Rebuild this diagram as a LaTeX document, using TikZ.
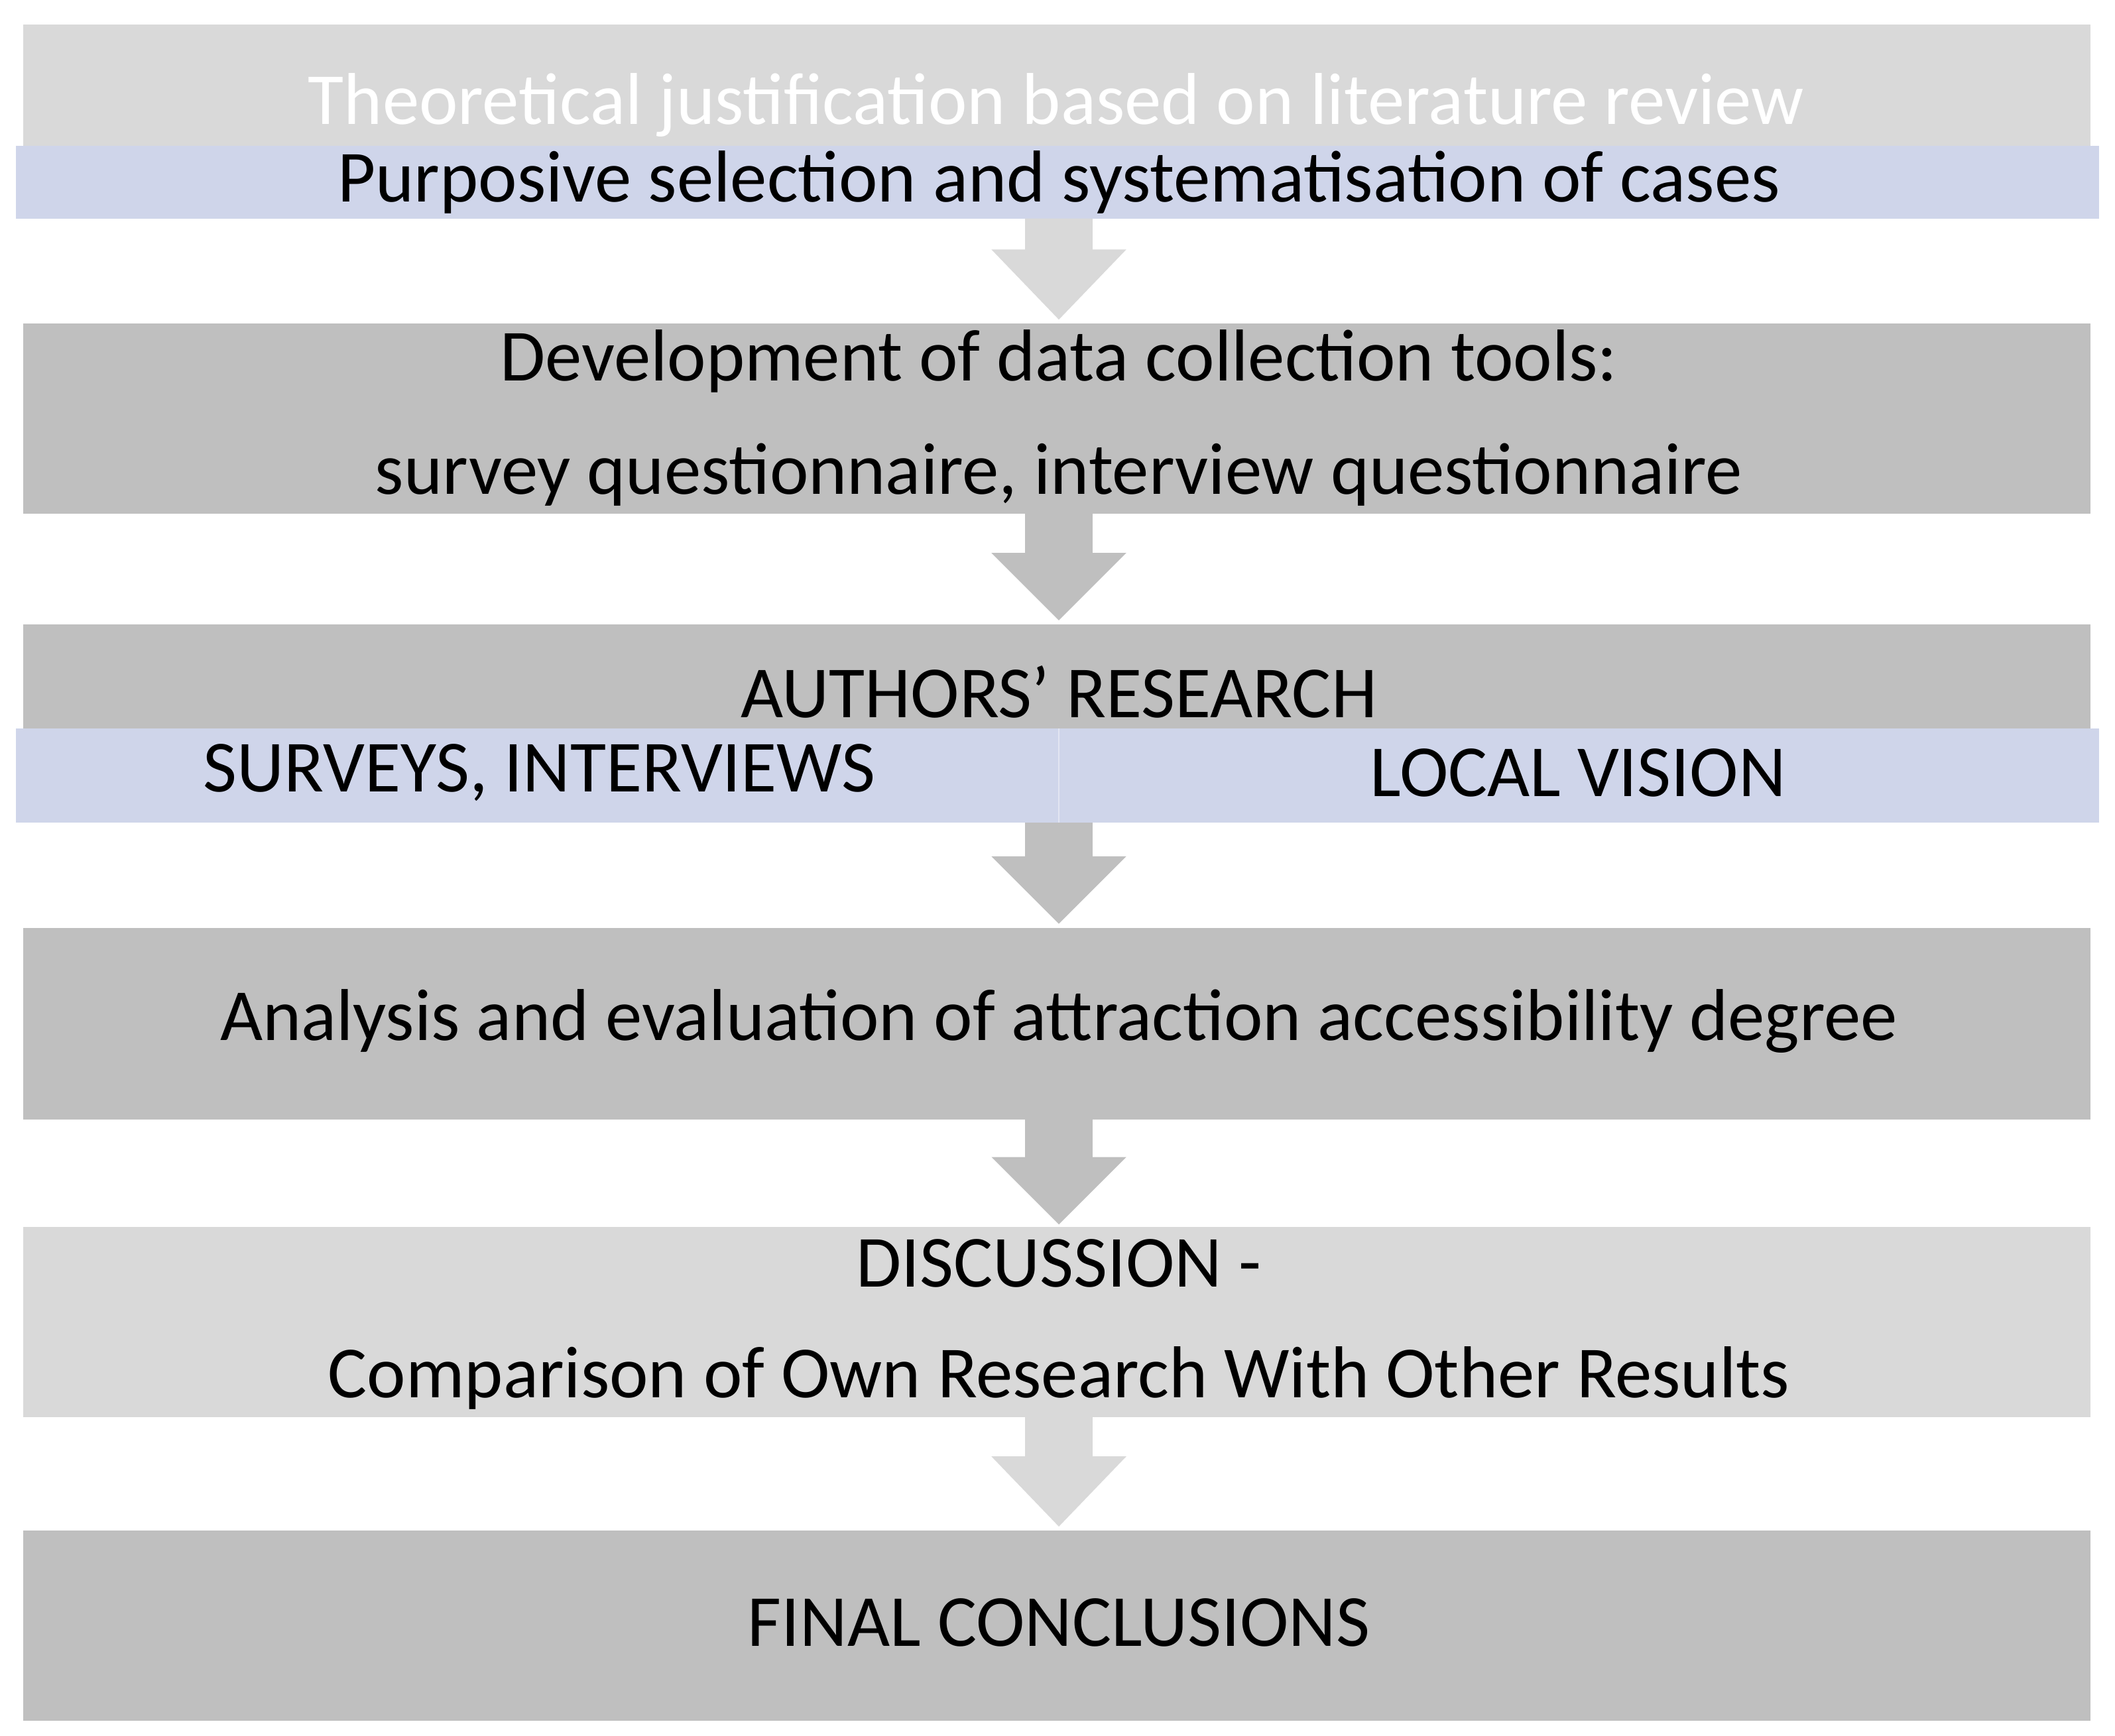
\documentclass[tikz,border=0pt]{standalone}
\usepackage{fontspec}
\setmainfont{Carlito}
\begin{document}
\begin{tikzpicture}[x=0.02cm,y=-0.02cm,
  lg/.style={fill={rgb,255:red,217;green,217;blue,217}},
  dg/.style={fill={rgb,255:red,191;green,191;blue,191}},
  bl/.style={fill={rgb,255:red,207;green,213;blue,234}},
  txt/.style={font=\fontsize{31}{37}\selectfont,text=black}]
\useasboundingbox (0,0) rectangle (1568,1287);
\newcommand{\myarrow}[4]{\fill[#1] (760,#2) -- (810,#2) -- (810,#3) -- (835,#3) -- (785,#4) -- (735,#3) -- (760,#3) -- cycle;}
% box 1
\fill[lg] (17,18) rectangle (1550,108);
\node[txt,text=white] (t1) at (783,78) {Theoretical justification based on literature review};
\fill[bl] (12,108) rectangle (1556,162);
\node[txt] (t1b) at (785,135) {Purposive selection and systematisation of cases};
\myarrow{lg}{162}{185}{237}
% box 2
\fill[dg] (17,240) rectangle (1550,381);
\node[txt] (t2a) at (785,268) {Development of data collection tools:};
\node[txt] (t2b) at (785,352) {survey questionnaire, interview questionnaire};
\myarrow{dg}{381}{410}{460}
% box 3
\fill[dg] (17,463) rectangle (1550,540);
\node[txt] (t3) at (785,513) {AUTHORS' RESEARCH};
\fill[bl] (12,540) rectangle (1556,610);
\draw[white,opacity=0.4] (785,540) -- (785,610);
\node[txt] (t3a) at (400,573) {SURVEYS, INTERVIEWS};
\node[txt] (t3b) at (1170,573) {LOCAL VISION};
\myarrow{dg}{610}{635}{685}
% box 4
\fill[dg] (17,688) rectangle (1550,830);
\node[txt] (t4) at (785,757) {Analysis and evaluation of attraction accessibility degree};
\myarrow{dg}{830}{858}{908}
% box 5
\fill[lg] (17,910) rectangle (1550,1051);
\node[txt] (t5a) at (785,937) {DISCUSSION -};
\node[txt] (t5b) at (785,1022) {Comparison of Own Research With Other Results};
\myarrow{lg}{1051}{1080}{1132}
% box 6
\fill[dg] (17,1135) rectangle (1550,1276);
\node[txt] (t6) at (785,1203) {FINAL CONCLUSIONS};
\end{tikzpicture}
\end{document}
